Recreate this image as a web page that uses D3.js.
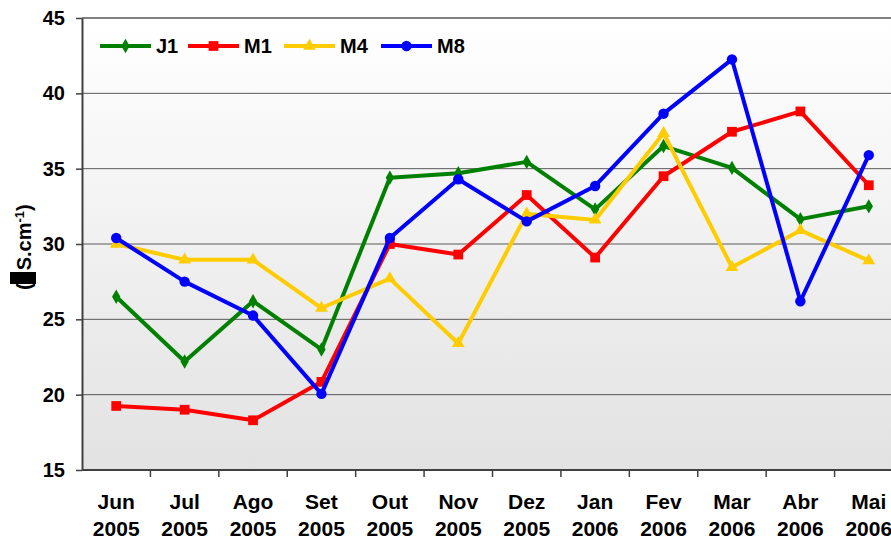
<!DOCTYPE html>
<html>
<head>
<meta charset="utf-8">
<script src="https://cdn.jsdelivr.net/npm/d3@7"></script>
<style>
  html, body { margin: 0; padding: 0; background: #fff; }
  svg { display: block; font-family: "Liberation Sans", Arial, sans-serif; font-weight: bold; }
</style>
</head>
<body>
<div id="chart"></div>
<script>
// monthly readings per station, Jun 2005 - Mai 2006
const months = ['Jun', 'Jul', 'Ago', 'Set', 'Out', 'Nov', 'Dez', 'Jan', 'Fev', 'Mar', 'Abr', 'Mai'];
const years  = ['2005', '2005', '2005', '2005', '2005', '2005', '2005', '2006', '2006', '2006', '2006', '2006'];
const yTicks = [15, 20, 25, 30, 35, 40, 45];

const seriesNames = ['J1', 'M1', 'M4', 'M8'];
const j1 = [26.5, 22.2, 26.2, 23.0, 34.4, 34.7, 35.45, 32.3, 36.5, 35.05, 31.65, 32.5];
const m1 = [19.25, 19.0, 18.3, 20.85, 30.0, 29.3, 33.25, 29.1, 34.5, 37.45, 38.8, 33.9];
const m4 = [30.0, 28.95, 28.95, 25.75, 27.7, 23.4, 32.0, 31.6, 37.35, 28.45, 30.9, 28.9];
const m8 = [30.4, 27.5, 25.25, 20.05, 30.4, 34.3, 31.5, 33.85, 38.65, 42.25, 26.2, 35.9];

const styles = {
  J1: { color: '#008000', marker: d3.symbolDiamond, size: 60 },
  M1: { color: '#ff0000', marker: d3.symbolSquare, size: 95 },
  M4: { color: '#ffcc00', marker: d3.symbolTriangle, size: 70 },
  M8: { color: '#0000ff', marker: d3.symbolCircle, size: 85 }
};

const series = [
  { name: 'J1', values: j1 },
  { name: 'M1', values: m1 },
  { name: 'M4', values: m4 },
  { name: 'M8', values: m8 }
];

const width = 891, height = 540;
const plot = { left: 82, top: 18, right: 903, bottom: 470 };

const svg = d3.select('#chart').append('svg')
  .attr('width', width).attr('height', height);

const defs = svg.append('defs');
const grad = defs.append('linearGradient').attr('id', 'bg')
  .attr('x1', 0).attr('y1', 0).attr('x2', 0).attr('y2', 1);
grad.append('stop').attr('offset', '0%').attr('stop-color', '#ffffff');
grad.append('stop').attr('offset', '100%').attr('stop-color', '#e2e2e2');

const x = d3.scaleBand().domain(months).range([plot.left, plot.right]);
const y = d3.scaleLinear().domain([15, 45]).range([plot.bottom, plot.top]);
const cx = m => x(m) + x.bandwidth() / 2;

// plot background
svg.append('rect')
  .attr('x', plot.left).attr('y', plot.top)
  .attr('width', plot.right - plot.left).attr('height', plot.bottom - plot.top)
  .attr('fill', 'url(#bg)');

// gridlines
svg.append('g').selectAll('line')
  .data(yTicks.filter(v => v > 15 && v < 45))
  .enter().append('line')
  .attr('x1', plot.left).attr('x2', plot.right)
  .attr('y1', d => y(d)).attr('y2', d => y(d))
  .attr('stroke', '#5a5a5a').attr('stroke-width', 1);

// top border
svg.append('line')
  .attr('x1', plot.left).attr('x2', plot.right)
  .attr('y1', y(45)).attr('y2', y(45))
  .attr('stroke', '#808080').attr('stroke-width', 2);

// y axis
const yAxis = svg.append('g')
  .attr('transform', `translate(${plot.left},0)`)
  .call(d3.axisLeft(y).tickValues(yTicks).tickSize(6).tickPadding(11).tickSizeOuter(0));
yAxis.select('.domain').attr('stroke', '#404040').attr('stroke-width', 2);
yAxis.selectAll('.tick line').attr('stroke', '#404040').attr('stroke-width', 1.5);
yAxis.selectAll('.tick text')
  .attr('fill', '#000').style('font-size', '20px').style('font-family', '"Liberation Sans", Arial, sans-serif');

// x axis line + ticks at category boundaries
const xAxis = svg.append('g');
xAxis.append('line')
  .attr('x1', plot.left).attr('x2', plot.right)
  .attr('y1', plot.bottom).attr('y2', plot.bottom)
  .attr('stroke', '#404040').attr('stroke-width', 2);
xAxis.selectAll('.xt')
  .data(months.slice(1))
  .enter().append('line').attr('class', 'xt')
  .attr('x1', d => x(d)).attr('x2', d => x(d))
  .attr('y1', plot.bottom).attr('y2', plot.bottom + 7)
  .attr('stroke', '#404040').attr('stroke-width', 1.5);

const xl = xAxis.selectAll('.xl')
  .data(months)
  .enter().append('text').attr('class', 'xl')
  .attr('text-anchor', 'middle')
  .style('font-size', '21px');
xl.append('tspan').attr('x', d => cx(d)).attr('y', 509).text(d => d);
xl.append('tspan').attr('x', d => cx(d)).attr('y', 536).text((d, i) => years[i]);

// y axis title (mu glyph rendered as a black box in the original)
const yt = svg.append('g').attr('transform', 'translate(31,244) rotate(-90)');
yt.append('text').attr('x', -46).attr('y', 0).style('font-size', '20px')
  .text('(')
  .append('tspan').attr('dx', 13).text('S.cm')
  .append('tspan').attr('dy', -7).style('font-size', '13px').text('-1');
yt.select('text').append('tspan').attr('dy', 7).text(')');
yt.append('rect').attr('x', -40).attr('y', -21).attr('width', 12).attr('height', 26).attr('fill', '#000');

// series lines and markers
const line = d3.line().x((d, i) => cx(months[i])).y(d => y(d));

series.forEach(s => {
  const st = styles[s.name];
  const g = svg.append('g');
  g.append('path')
    .datum(s.values)
    .attr('d', line)
    .attr('fill', 'none')
    .attr('stroke', st.color)
    .attr('stroke-width', 4)
    .attr('stroke-linejoin', 'round');
  g.selectAll('path.mk')
    .data(s.values)
    .enter().append('path').attr('class', 'mk')
    .attr('transform', (d, i) => `translate(${cx(months[i])},${y(d)})`)
    .attr('d', d3.symbol().type(st.marker).size(st.size))
    .attr('fill', st.color);
});

// legend
const legendX = [100, 188, 284, 381];
const leg = svg.append('g');
seriesNames.forEach((name, i) => {
  const st = styles[name];
  const lx = legendX[i];
  leg.append('line')
    .attr('x1', lx).attr('x2', lx + 51).attr('y1', 46).attr('y2', 46)
    .attr('stroke', st.color).attr('stroke-width', 4);
  leg.append('path')
    .attr('transform', `translate(${lx + 25.5},46)`)
    .attr('d', d3.symbol().type(st.marker).size(st.size))
    .attr('fill', st.color);
  leg.append('text')
    .attr('x', lx + 56).attr('y', 53)
    .style('font-size', '20px')
    .text(name);
});
</script>
</body>
</html>
